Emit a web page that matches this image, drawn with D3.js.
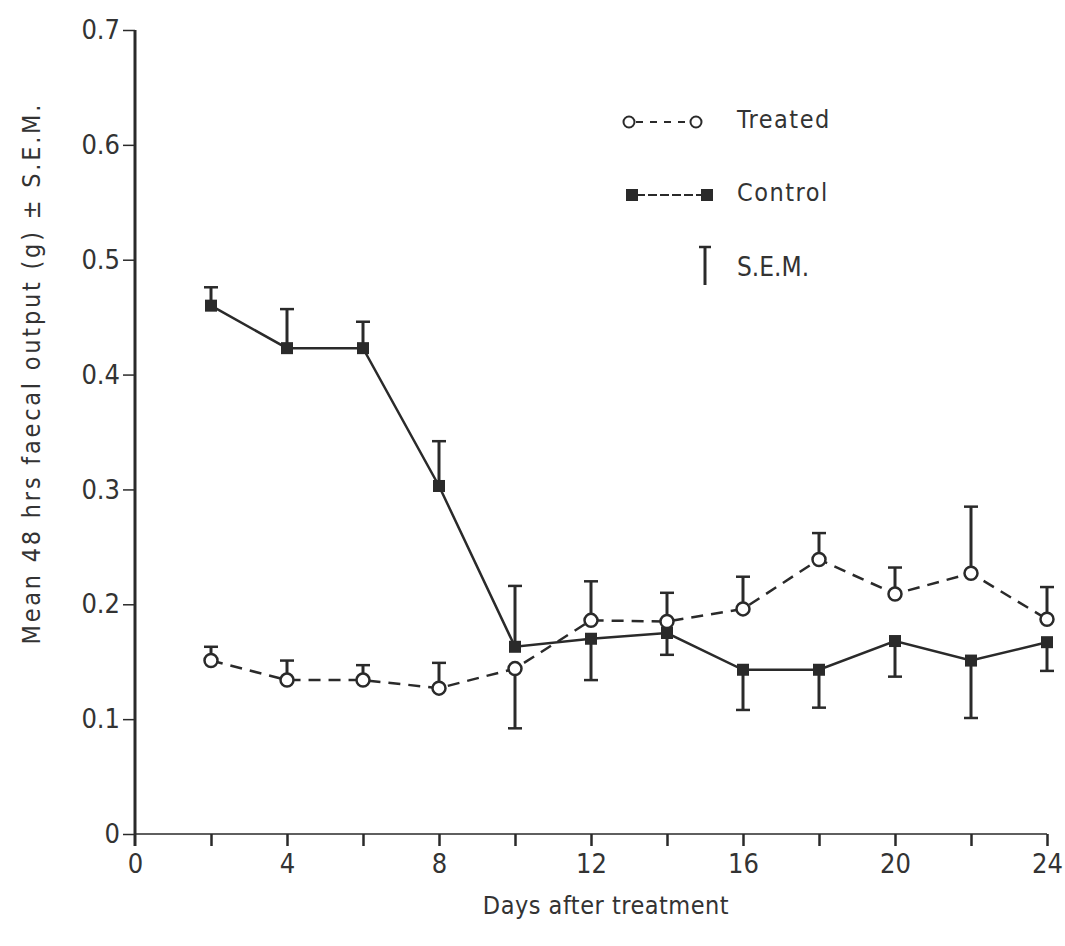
<!DOCTYPE html>
<html>
<head>
<meta charset="utf-8">
<script src="https://cdn.jsdelivr.net/npm/d3@7"></script>
<style>
  body { margin: 0; background: #fff; }
  text { font-family: "DejaVu Sans Condensed", "DejaVu Sans", sans-serif; fill: #333; }
</style>
</head>
<body>
<svg class="chart"></svg>
<script>
var width = 1065;
var height = 946;

// days after treatment
var days = [2, 4, 6, 8, 10, 12, 14, 16, 18, 20, 22, 24];

// mean 48 hrs faecal output (g)
var treated = [0.151, 0.134, 0.134, 0.127, 0.144, 0.186, 0.185, 0.196, 0.239, 0.209, 0.227, 0.187];
var control = [0.460, 0.423, 0.423, 0.303, 0.163, 0.170, 0.175, 0.143, 0.143, 0.168, 0.151, 0.167];

// end of the S.E.M. bar (drawn one side only)
var treatedSem = [0.163, 0.151, 0.147, 0.149, 0.092, 0.220, 0.210, 0.224, 0.262, 0.232, 0.285, 0.215];
var controlSem = [0.476, 0.457, 0.446, 0.342, 0.216, 0.134, 0.156, 0.108, 0.110, 0.137, 0.101, 0.142];

var xTicks = [0, 2, 4, 6, 8, 10, 12, 14, 16, 18, 20, 22, 24];
var xLabels = [0, 4, 8, 12, 16, 20, 24];
var yTicks = [0, 0.1, 0.2, 0.3, 0.4, 0.5, 0.6, 0.7];

var ink = "#2a2a2a";

var x = d3.scaleLinear().domain([0, 24]).range([135, 1047]);
var y = d3.scaleLinear().domain([0, 0.7]).range([834, 30]);

var chart = d3.select(".chart")
    .attr("width", width)
    .attr("height", height);

var g = chart.append("g");

// y axis
var yAxis = d3.axisLeft(y)
    .tickValues(yTicks)
    .tickSize(12)
    .tickPadding(3)
    .tickFormat(function(d) { return d === 0 ? "0" : d3.format(".1f")(d); });

g.append("g")
    .attr("transform", "translate(" + x(0) + ",0)")
    .call(yAxis)
    .call(function(s) {
        s.select(".domain").remove();
        s.selectAll(".tick line").attr("stroke", ink).attr("stroke-width", 1.5);
        s.selectAll(".tick text").style("font-size", "27px").attr("fill", "#333");
    });

g.append("line")
    .attr("x1", x(0)).attr("x2", x(0))
    .attr("y1", y(0.7)).attr("y2", y(0) + 12)
    .attr("stroke", ink).attr("stroke-width", 3);

// x axis
var xAxis = d3.axisBottom(x)
    .tickValues(xTicks)
    .tickSize(12)
    .tickPadding(8)
    .tickFormat(function(d) { return xLabels.indexOf(d) >= 0 ? d : ""; });

g.append("g")
    .attr("transform", "translate(0," + y(0) + ")")
    .call(xAxis)
    .call(function(s) {
        s.select(".domain").remove();
        s.selectAll(".tick line").attr("stroke", ink).attr("stroke-width", 2.5);
        s.selectAll(".tick").filter(function(d) { return d === 0; }).select("line").remove();
        s.selectAll(".tick text").style("font-size", "27px").attr("fill", "#333");
    });

g.append("line")
    .attr("x1", x(0)).attr("x2", x(24))
    .attr("y1", y(0)).attr("y2", y(0))
    .attr("stroke", ink).attr("stroke-width", 1.5);

// axis titles
g.append("text")
    .attr("transform", "translate(40," + y(0.4) + ") rotate(-90)")
    .attr("text-anchor", "middle")
    .attr("textLength", 540)
    .attr("lengthAdjust", "spacing")
    .style("font-size", "25px")
    .text("Mean 48 hrs faecal output (g) \u00b1 S.E.M.");

g.append("text")
    .attr("x", 606)
    .attr("y", 914)
    .attr("text-anchor", "middle")
    .style("font-size", "25px")
    .style("letter-spacing", "0.5px")
    .text("Days after treatment");

var treatedData = days.map(function(d, i) { return { day: d, v: treated[i], sem: treatedSem[i] }; });
var controlData = days.map(function(d, i) { return { day: d, v: control[i], sem: controlSem[i] }; });

var line = d3.line()
    .x(function(d) { return x(d.day); })
    .y(function(d) { return y(d.v); });

// error bars
function semBars(data, cls) {
    var bars = g.selectAll("g." + cls)
        .data(data)
        .enter()
        .append("g")
        .attr("class", cls);
    bars.append("line")
        .attr("x1", function(d) { return x(d.day); })
        .attr("x2", function(d) { return x(d.day); })
        .attr("y1", function(d) { return y(d.v); })
        .attr("y2", function(d) { return y(d.sem); })
        .attr("stroke", ink).attr("stroke-width", 3);
    bars.append("line")
        .attr("x1", function(d) { return x(d.day) - 7; })
        .attr("x2", function(d) { return x(d.day) + 7; })
        .attr("y1", function(d) { return y(d.sem); })
        .attr("y2", function(d) { return y(d.sem); })
        .attr("stroke", ink).attr("stroke-width", 2.5);
}

semBars(controlData, "semControl");
semBars(treatedData, "semTreated");

g.append("path")
    .datum(controlData)
    .attr("d", line)
    .attr("fill", "none")
    .attr("stroke", ink)
    .attr("stroke-width", 2.5);

g.append("path")
    .datum(treatedData)
    .attr("d", line)
    .attr("fill", "none")
    .attr("stroke", ink)
    .attr("stroke-width", 2.5)
    .attr("stroke-dasharray", "12,8");

g.selectAll("rect.control")
    .data(controlData)
    .enter()
    .append("rect")
    .attr("class", "control")
    .attr("x", function(d) { return x(d.day) - 6; })
    .attr("y", function(d) { return y(d.v) - 6; })
    .attr("width", 12)
    .attr("height", 12)
    .attr("fill", ink);

g.selectAll("circle.treated")
    .data(treatedData)
    .enter()
    .append("circle")
    .attr("class", "treated")
    .attr("cx", function(d) { return x(d.day); })
    .attr("cy", function(d) { return y(d.v); })
    .attr("r", 6.5)
    .attr("fill", "#fff")
    .attr("stroke", ink)
    .attr("stroke-width", 2.5);

// legend
var leg = g.append("g");

leg.append("line")
    .attr("x1", 636).attr("x2", 690).attr("y1", 122).attr("y2", 122)
    .attr("stroke", ink).attr("stroke-width", 2).attr("stroke-dasharray", "7,7");
leg.selectAll("circle")
    .data([629, 696])
    .enter().append("circle")
    .attr("cx", function(d) { return d; }).attr("cy", 122).attr("r", 5.5)
    .attr("fill", "#fff").attr("stroke", ink).attr("stroke-width", 2);
leg.append("text").attr("x", 737).attr("y", 128).style("font-size", "25px")
    .style("letter-spacing", "1.5px").text("Treated");

leg.append("line")
    .attr("x1", 636).attr("x2", 702).attr("y1", 195).attr("y2", 195)
    .attr("stroke", ink).attr("stroke-width", 2).attr("stroke-dasharray", "9,3");
leg.selectAll("rect")
    .data([632, 707])
    .enter().append("rect")
    .attr("x", function(d) { return d - 6; }).attr("y", 189).attr("width", 12).attr("height", 12)
    .attr("fill", ink);
leg.append("text").attr("x", 737).attr("y", 201).style("font-size", "25px")
    .style("letter-spacing", "1.5px").text("Control");

leg.append("line")
    .attr("x1", 705).attr("x2", 705).attr("y1", 247).attr("y2", 285)
    .attr("stroke", ink).attr("stroke-width", 3);
leg.append("line")
    .attr("x1", 699).attr("x2", 711).attr("y1", 247).attr("y2", 247)
    .attr("stroke", ink).attr("stroke-width", 2.5);
leg.append("text").attr("x", 737).attr("y", 276).style("font-size", "26px")
    .text("S.E.M.");
</script>
</body>
</html>
